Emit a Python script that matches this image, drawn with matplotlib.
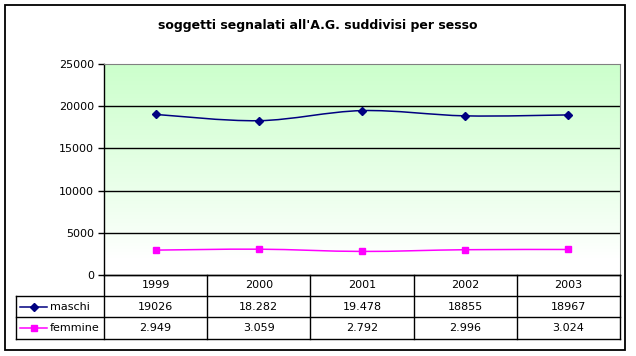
import numpy as np
import matplotlib.pyplot as plt
from matplotlib.path import Path
from matplotlib.patches import PathPatch, Rectangle
from matplotlib.lines import Line2D

# Data
years = ['1999', '2000', '2001', '2002', '2003']
maschi = [19026, 18282, 19478, 18855, 18967]
femmine = [2949, 3059, 2792, 2996, 3024]
maschi_lbl = ['19026', '18.282', '19.478', '18855', '18967']
femmine_lbl = ['2.949', '3.059', '2.792', '2.996', '3.024']
series_names = ['maschi', 'femmine']
title = "soggetti segnalati all'A.G. suddivisi per sesso"

W, H = 636, 356
fig = plt.figure(figsize=(W / 100, H / 100), dpi=100)
fig.patch.set_facecolor('white')

def fx(px):
    return px / W

def fy(py):
    return 1 - py / H

# pixel layout
x0, x1 = 104, 620
ytop, ybot = 64, 275
rows = [275, 296, 317, 339]
leg_left = 16

# outer frame
fig.add_artist(Rectangle((fx(5), fy(350)), fx(625) - fx(5), fy(5) - fy(350),
                         transform=fig.transFigure, fill=False, ec='black', lw=1.3))

fig.text(0.5, fy(25), title, ha='center', va='center', fontsize=9,
         fontweight='bold', family='DejaVu Sans')

ax = fig.add_axes([fx(x0), fy(ybot), fx(x1) - fx(x0), fy(ytop) - fy(ybot)])
n = len(years)
ax.set_xlim(-0.5, n - 0.5)
ax.set_ylim(0, 25000)

# gradient background: pale green at top fading to white
grad = np.linspace(0, 1, 256).reshape(-1, 1)
top = np.array([0.80, 1.0, 0.80])
bot = np.array([1.0, 1.0, 1.0])
t = np.clip((grad - 0.08) / 0.92, 0, 1) ** 0.9
img = bot + (top - bot) * t
ax.imshow(img[:, None, :].repeat(2, axis=1), aspect='auto', origin='lower',
          extent=(-0.5, n - 0.5, 0, 25000), zorder=0)

for v in range(5000, 25000, 5000):
    ax.axhline(v, color='black', lw=1.0, zorder=1)

def smooth_path(xs, ys):
    verts = [(xs[0], ys[0])]
    codes = [Path.MOVETO]
    m = len(xs)
    for i in range(m - 1):
        p0 = np.array([xs[max(i - 1, 0)], ys[max(i - 1, 0)]], float)
        p1 = np.array([xs[i], ys[i]], float)
        p2 = np.array([xs[i + 1], ys[i + 1]], float)
        p3 = np.array([xs[min(i + 2, m - 1)], ys[min(i + 2, m - 1)]], float)
        c1 = p1 + (p2 - p0) / 6
        c2 = p2 - (p3 - p1) / 6
        verts += [tuple(c1), tuple(c2), tuple(p2)]
        codes += [Path.CURVE4] * 3
    return Path(verts, codes)

xs = np.arange(n)
styles = [(maschi, '#000080', 'D', 4), (femmine, '#FF00FF', 's', 4.5)]
for vals, col, mk, ms in styles:
    ax.add_patch(PathPatch(smooth_path(xs, vals), fill=False, ec=col, lw=1.1, zorder=3))
    ax.plot(xs, vals, ls='none', marker=mk, color=col, ms=ms, zorder=4)

ax.set_xticks([])
ax.set_yticks(range(0, 25001, 5000))
ax.tick_params(axis='y', length=4, width=1, labelsize=8, pad=3)
for s in ['top', 'right']:
    ax.spines[s].set_color('#808080')
for s in ['left', 'bottom']:
    ax.spines[s].set_color('black')
    ax.spines[s].set_linewidth(1.0)

# data table below the axes
def hline(xa, xb, y):
    fig.add_artist(Line2D([fx(xa), fx(xb)], [fy(y), fy(y)], transform=fig.transFigure,
                          color='black', lw=1))

def vline(x, ya, yb):
    fig.add_artist(Line2D([fx(x), fx(x)], [fy(ya), fy(yb)], transform=fig.transFigure,
                          color='black', lw=1))

colw = (x1 - x0) / n
hline(x0, x1, rows[0])
for r in rows[1:]:
    hline(leg_left, x1, r)
for i in range(n + 1):
    vline(x0 + i * colw, rows[0], rows[3])
vline(leg_left, rows[1], rows[3])

for i, y in enumerate(years):
    fig.text(fx(x0 + (i + 0.5) * colw), fy((rows[0] + rows[1]) / 2), y,
             ha='center', va='center', fontsize=8)
for r, labels in enumerate([maschi_lbl, femmine_lbl]):
    yc = (rows[r + 1] + rows[r + 2]) / 2
    for i, s in enumerate(labels):
        fig.text(fx(x0 + (i + 0.5) * colw), fy(yc), s, ha='center', va='center', fontsize=8)
    col, mk, ms = styles[r][1], styles[r][2], styles[r][3]
    fig.add_artist(Line2D([fx(20), fx(47)], [fy(yc), fy(yc)], transform=fig.transFigure,
                          color=col, lw=1.1))
    fig.add_artist(Line2D([fx(33.5)], [fy(yc)], transform=fig.transFigure, ls='none',
                          marker=mk, color=col, ms=ms))
    fig.text(fx(50), fy(yc), series_names[r], ha='left', va='center', fontsize=8)

fig.savefig('out.png', dpi=100)
